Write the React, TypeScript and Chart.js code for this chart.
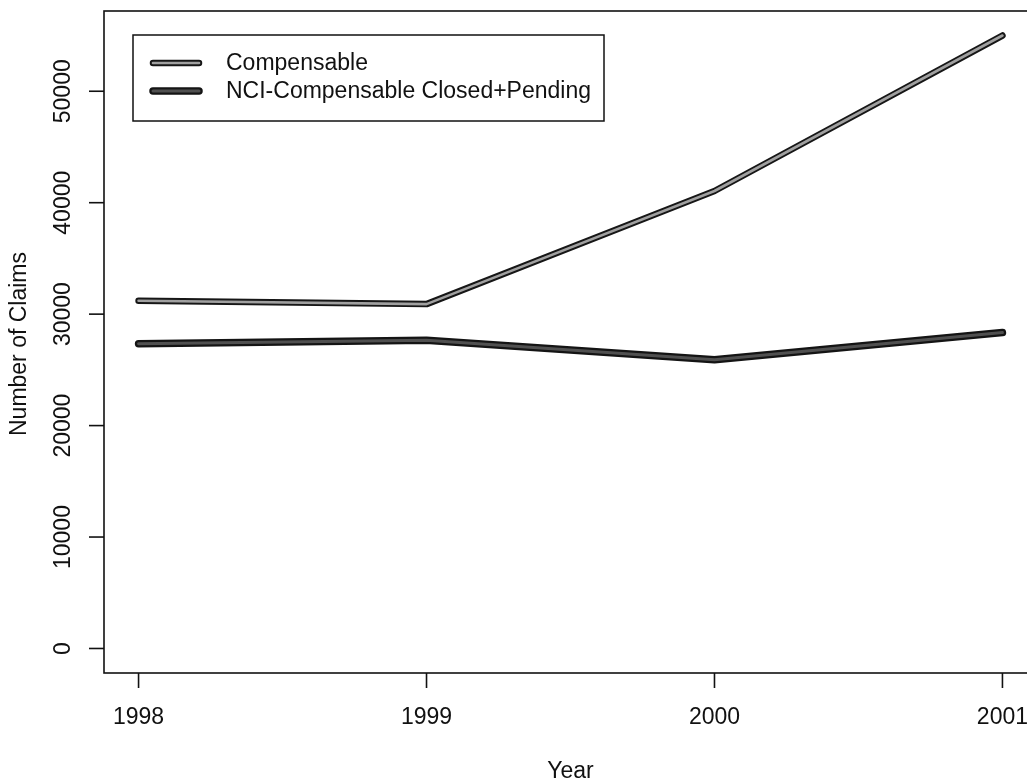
import React, { useEffect, useRef } from "react";
import { Chart, registerables } from "chart.js";

Chart.register(...registerables);

// Claims per year
const years = [1998, 1999, 2000, 2001];
const compensable = [31200, 30900, 41050, 55000];
const nciClosedPending = [27350, 27650, 25900, 28350];
const yTicks = [0, 10000, 20000, 30000, 40000, 50000];
const seriesNames = ["Compensable", "NCI-Compensable Closed+Pending"];

const FONT = '"Liberation Sans", Arial, Helvetica, sans-serif';
const FONT_SIZE = 23;

// Two-tone stroke styles: a dark casing underneath and a lighter core on top
const styles = [
  { outer: "#161616", outerW: 6.5, inner: "#a0a0a0", innerW: 2.6 },
  { outer: "#141414", outerW: 7.5, inner: "#505050", innerW: 3 },
];

const axesPlugin = {
  id: "rAxes",
  afterDraw(chart: any) {
    const { ctx, chartArea } = chart;
    const xs = chart.scales.x;
    const ys = chart.scales.y;
    ctx.save();
    ctx.strokeStyle = "#111";
    ctx.fillStyle = "#111";
    ctx.lineWidth = 1.6;
    ctx.lineCap = "butt";

    // frame
    ctx.strokeRect(chartArea.left, chartArea.top, chartArea.right - chartArea.left, chartArea.bottom - chartArea.top);

    ctx.font = `${FONT_SIZE}px ${FONT}`;
    const tick = 15;

    // x axis ticks and labels
    ctx.textAlign = "center";
    ctx.textBaseline = "alphabetic";
    years.forEach((yr) => {
      const px = xs.getPixelForValue(yr);
      ctx.beginPath();
      ctx.moveTo(px, chartArea.bottom);
      ctx.lineTo(px, chartArea.bottom + tick);
      ctx.stroke();
      ctx.fillText(String(yr), px, 724);
    });

    // y axis ticks and rotated labels
    yTicks.forEach((v) => {
      const py = ys.getPixelForValue(v);
      ctx.beginPath();
      ctx.moveTo(chartArea.left, py);
      ctx.lineTo(chartArea.left - tick, py);
      ctx.stroke();
      ctx.save();
      ctx.translate(70, py);
      ctx.rotate(-Math.PI / 2);
      ctx.fillText(String(v), 0, 0);
      ctx.restore();
    });

    // axis titles
    const midX = (chartArea.left + chartArea.right) / 2;
    const midY = (chartArea.top + chartArea.bottom) / 2;
    ctx.fillText("Year", midX, 778);
    ctx.save();
    ctx.translate(26, midY + 2);
    ctx.rotate(-Math.PI / 2);
    ctx.fillText("Number of Claims", 0, 0);
    ctx.restore();

    // legend
    const lx = 133, ly = 35, lw = 471, lh = 86;
    ctx.fillStyle = "#fff";
    ctx.fillRect(lx, ly, lw, lh);
    ctx.strokeStyle = "#111";
    ctx.lineWidth = 1.5;
    ctx.strokeRect(lx, ly, lw, lh);
    const rows = [63, 91];
    ctx.textBaseline = "middle";
    seriesNames.forEach((name, i) => {
      const s = styles[i];
      ctx.lineCap = "round";
      ctx.strokeStyle = s.outer;
      ctx.lineWidth = s.outerW;
      ctx.beginPath();
      ctx.moveTo(153, rows[i]);
      ctx.lineTo(199, rows[i]);
      ctx.stroke();
      ctx.strokeStyle = s.inner;
      ctx.lineWidth = s.innerW;
      ctx.beginPath();
      ctx.moveTo(153, rows[i]);
      ctx.lineTo(199, rows[i]);
      ctx.stroke();
      ctx.fillStyle = "#111";
      ctx.textAlign = "left";
      ctx.fillText(name, 226, rows[i] + 1);
    });
    ctx.restore();
  },
};

function toPoints(vals: number[]) {
  return years.map((y, i) => ({ x: y, y: vals[i] }));
}

export default function App() {
  const ref = useRef<HTMLCanvasElement | null>(null);

  useEffect(() => {
    if (!ref.current) return;
    const seriesVals = [compensable, nciClosedPending];
    const datasets: any[] = [];
    seriesVals.forEach((vals, i) => {
      const s = styles[i];
      datasets.push({
        label: seriesNames[i] + " casing",
        data: toPoints(vals),
        borderColor: s.outer,
        borderWidth: s.outerW,
        borderCapStyle: "round",
        borderJoinStyle: "round",
        pointRadius: 0,
        fill: false,
        tension: 0,
        order: 2,
      });
      datasets.push({
        label: seriesNames[i],
        data: toPoints(vals),
        borderColor: s.inner,
        borderWidth: s.innerW,
        borderCapStyle: "round",
        borderJoinStyle: "round",
        pointRadius: 0,
        fill: false,
        tension: 0,
        order: 1,
      });
    });

    const chart = new Chart(ref.current, {
      type: "line",
      data: { datasets },
      options: {
        animation: false,
        responsive: false,
        maintainAspectRatio: false,
        layout: { padding: { left: 104, top: 11, right: 8, bottom: 108 } },
        plugins: { legend: { display: false }, tooltip: { enabled: false } },
        scales: {
          x: { type: "linear", min: 1997.88, max: 2001.12, display: false },
          y: { type: "linear", min: -2200, max: 57200, display: false },
        },
      },
      plugins: [axesPlugin],
    });
    return () => chart.destroy();
  }, []);

  return (
    <div
      style={{
        position: "fixed",
        left: 0,
        top: 0,
        width: 1027,
        height: 781,
        overflow: "hidden",
        background: "#fff",
      }}
    >
      <canvas ref={ref} width={1045} height={781} style={{ display: "block" }} />
    </div>
  );
}
